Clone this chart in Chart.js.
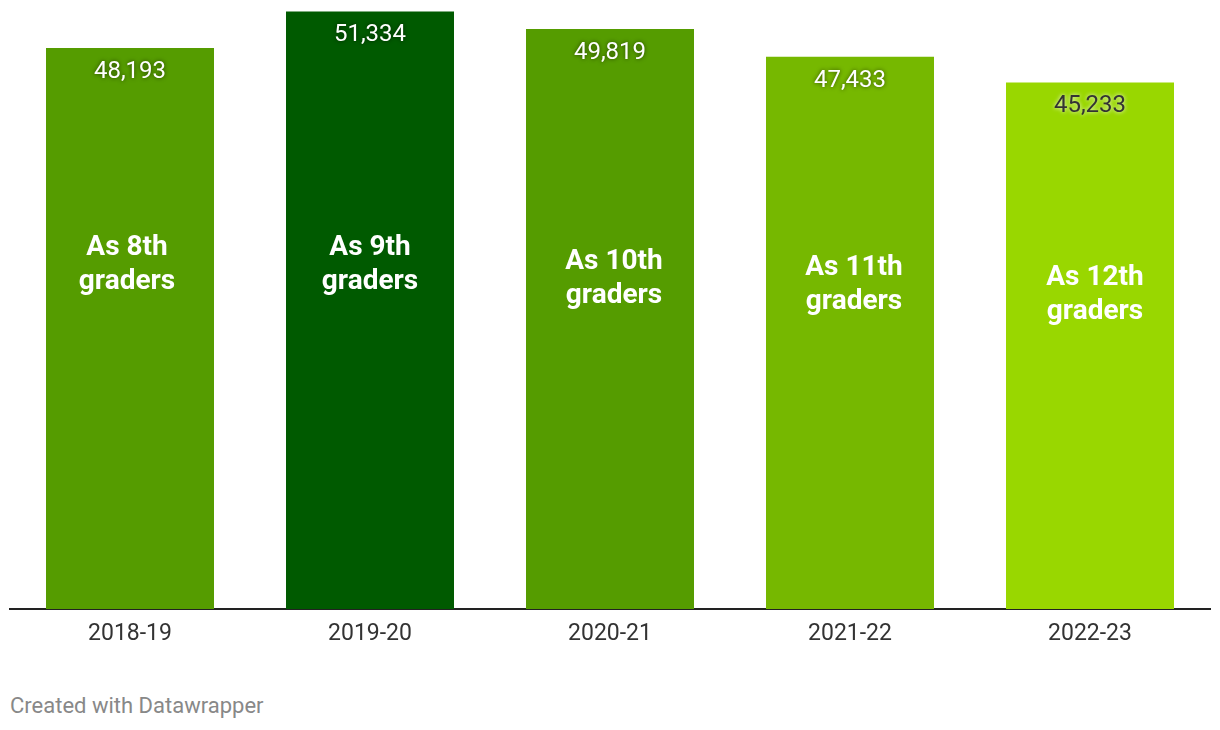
<!DOCTYPE html>
<html>
<head>
<meta charset="utf-8">
<script src="https://cdn.jsdelivr.net/npm/chart.js@4"></script>
<style>
  body { margin: 0; background: #fff; font-family: Roboto, sans-serif; }
  #wrap { position: absolute; left: 0; top: 0; width: 1220px; height: 660px; }
  #credit { position: absolute; left: 10px; top: 693px; font-size: 22px; color: #888; }
</style>
</head>
<body>
<div id="wrap"><canvas id="chart"></canvas></div>
<div id="credit">Created with Datawrapper</div>
<script>
// data
var years = ['2018-19', '2019-20', '2020-21', '2021-22', '2022-23'];
var students = [48193, 51334, 49819, 47433, 45233];
var gradeLabels = [['As 8th', 'graders'], ['As 9th', 'graders'], ['As 10th', 'graders'], ['As 11th', 'graders'], ['As 12th', 'graders']];
// where each grade annotation sits, in student units
var gradeLabelAt = [29550, 29550, 28350, 27850, 26970];
var barColors = ['#559c00', '#005a00', '#559c00', '#76b800', '#99d700'];
var valueDark = [false, false, false, false, true];

// annotations were placed by hand, slightly off centre
var annoNudge = [-3, 0, 4, 4, 5];

var labelsPlugin = {
    id: 'barLabels',
    afterDatasetsDraw: function (chart) {
        var ctx = chart.ctx;
        var meta = chart.getDatasetMeta(0);
        var yScale = chart.scales.y;
        ctx.save();
        ctx.textAlign = 'center';
        ctx.textBaseline = 'middle';
        meta.data.forEach(function (bar, i) {
            // value at top of bar
            ctx.font = '24px Roboto';
            if (valueDark[i]) {
                ctx.fillStyle = '#333';
                ctx.shadowColor = 'rgba(255,255,255,0.9)';
            } else {
                ctx.fillStyle = '#fff';
                ctx.shadowColor = 'rgba(0,0,0,0.6)';
            }
            ctx.shadowBlur = 4;
            ctx.fillText(students[i].toLocaleString('en-US'), bar.x, bar.y + 24);
            ctx.shadowBlur = 0;
            ctx.shadowColor = 'transparent';

            // grade annotation
            ctx.font = 'bold 28px Roboto';
            ctx.fillStyle = '#fff';
            var cy = yScale.getPixelForValue(gradeLabelAt[i]);
            var cx = bar.x + annoNudge[i];
            ctx.fillText(gradeLabels[i][0], cx, cy - 17);
            ctx.fillText(gradeLabels[i][1], cx, cy + 17);
        });
        ctx.restore();
    }
};

new Chart(document.getElementById('chart'), {
    type: 'bar',
    data: {
        labels: years,
        datasets: [{
            data: students,
            backgroundColor: barColors,
            barPercentage: 0.7,
            categoryPercentage: 1
        }]
    },
    options: {
        responsive: true,
        maintainAspectRatio: false,
        animation: false,
        layout: { padding: { left: 10, right: 10, top: 0, bottom: 0 } },
        plugins: { legend: { display: false }, tooltip: { enabled: false } },
        scales: {
            y: { display: false, min: 0, max: 52316 },
            x: {
                grid: { display: false, drawTicks: false },
                border: { display: true, color: '#222', width: 2 },
                ticks: { color: '#333', font: { family: 'Roboto', size: 23 }, padding: 11 },
                afterFit: function (scale) { scale.height = 51; }
            }
        }
    },
    plugins: [labelsPlugin]
});
</script>
</body>
</html>
